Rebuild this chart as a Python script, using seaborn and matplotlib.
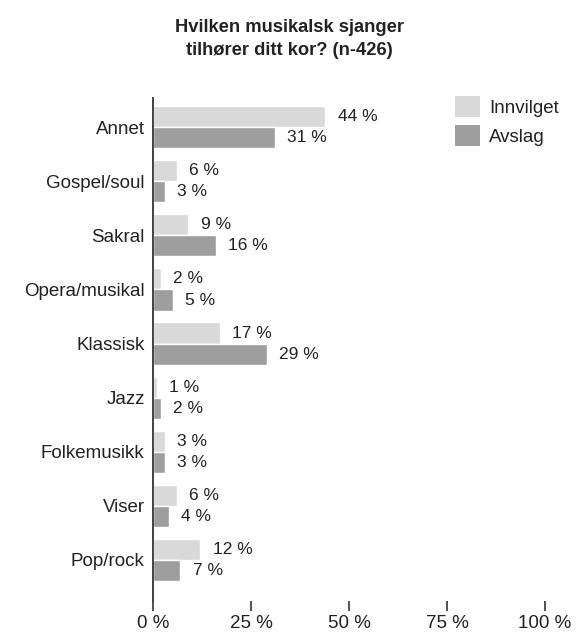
import matplotlib
matplotlib.use("Agg")
import matplotlib.pyplot as plt
import seaborn as sns
import pandas as pd
from matplotlib.patches import Patch

categories = ["Annet", "Gospel/soul", "Sakral", "Opera/musikal", "Klassisk",
              "Jazz", "Folkemusikk", "Viser", "Pop/rock"]
innvilget = [44, 6, 9, 2, 17, 1, 3, 6, 12]
avslag = [31, 3, 16, 5, 29, 2, 3, 4, 7]
groups = ["Innvilget", "Avslag"]
x_ticks = [0, 25, 50, 75, 100]
title = "Hvilken musikalsk sjanger\ntilhører ditt kor? (n-426)"

df = pd.DataFrame({
    "kategori": categories * 2,
    "verdi": innvilget + avslag,
    "gruppe": [groups[0]] * len(categories) + [groups[1]] * len(categories),
})

sns.set_theme(style="white")
plt.rcParams["font.family"] = ["Liberation Sans", "DejaVu Sans"]
text_color = "#222222"
light = "#d9d9d9"
dark = "#9e9e9e"

fig = plt.figure(figsize=(5.79, 6.33), dpi=100)
ax = fig.add_axes([153 / 579, 1 - 601 / 633, (545 - 153) / 579, (601 - 98) / 633])

sns.barplot(data=df, y="kategori", x="verdi", hue="gruppe", order=categories,
            hue_order=groups, palette=[light, dark], width=0.78, gap=0,
            orient="h", ax=ax, legend=False, saturation=1)

for cont in ax.containers:
    vals = [int(round(b.get_width())) for b in cont]
    ax.bar_label(cont, labels=[f"{v} %" for v in vals], padding=9,
                 fontsize=12.5, color=text_color)

ax.set_xlim(0, 100)
ax.set_ylim(8.76, -0.54)
ax.set_xticks(x_ticks)
ax.set_xticklabels([f"{t} %" for t in x_ticks])
ax.set_xlabel("")
ax.set_ylabel("")
for s in ["top", "right", "bottom"]:
    ax.spines[s].set_visible(False)
ax.spines["left"].set_color("#333333")
ax.spines["left"].set_linewidth(1.3)
ax.tick_params(axis="y", left=False, length=0, pad=6, labelsize=13.5, labelcolor=text_color)
ax.xaxis.set_tick_params(which="major", bottom=True, size=7, width=1.2,
                         color="#333333", direction="out", pad=3,
                         labelsize=13.5, labelcolor=text_color)
for t in ax.xaxis.get_major_ticks():
    t.tick1line.set_clip_on(False)

handles = [Patch(facecolor=light, edgecolor="none"), Patch(facecolor=dark, edgecolor="none")]
fig.legend(handles, groups, loc="upper left",
           bbox_to_anchor=(455 / 579, 1 - 96 / 633), bbox_transform=fig.transFigure,
           frameon=False, fontsize=13.5, handlelength=1.33, handleheight=1.33,
           handletextpad=0.5, labelspacing=0.45, borderpad=0, borderaxespad=0,
           labelcolor=text_color)

fig.text(0.5, 1 - 39 / 633, title, ha="center", va="center", fontsize=13.2,
         fontweight="bold", color=text_color, linespacing=1.5)

fig.savefig("out.png", dpi=100)
